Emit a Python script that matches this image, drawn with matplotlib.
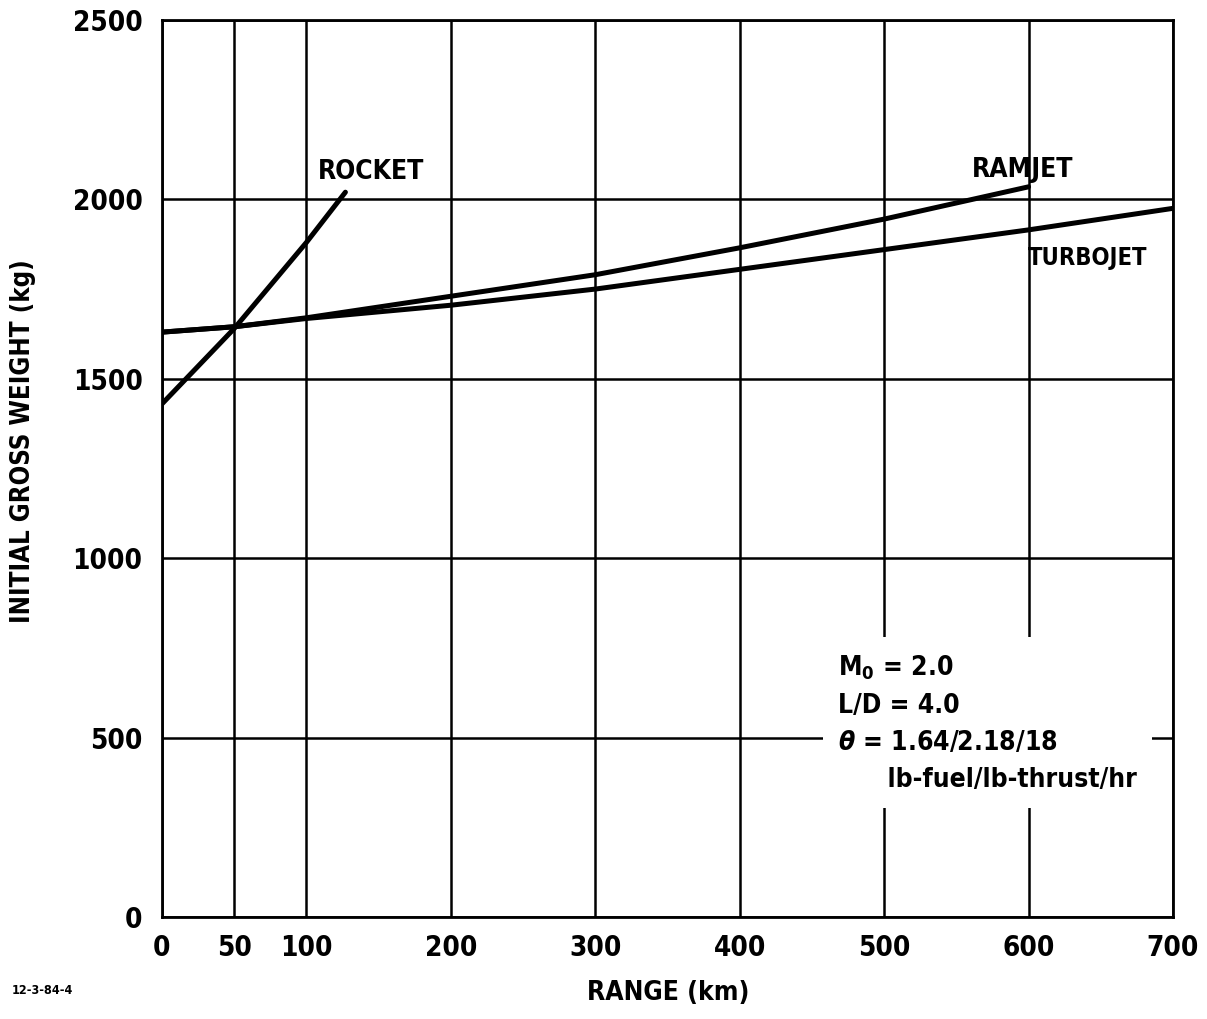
import matplotlib as mpl
import matplotlib.pyplot as plt

# data
rocket_x = [0, 25, 50, 75, 100, 127]
rocket_y = [1430, 1535, 1640, 1760, 1880, 2020]

ramjet_x = [0, 50, 100, 150, 200, 300, 400, 500, 600]
ramjet_y = [1630, 1645, 1670, 1700, 1730, 1790, 1865, 1945, 2035]

turbojet_x = [0, 50, 100, 200, 300, 400, 500, 600, 700]
turbojet_y = [1630, 1645, 1668, 1705, 1750, 1805, 1860, 1915, 1975]

x_ticks = [0, 50, 100, 200, 300, 400, 500, 600, 700]
y_ticks = [0, 500, 1000, 1500, 2000, 2500]

# condensed bold look of the original lettering
mpl.rcParams["font.family"] = ["DejaVu Sans"]
mpl.rcParams["font.stretch"] = "condensed"
mpl.rcParams["font.weight"] = "bold"
mpl.rcParams["axes.labelweight"] = "bold"
mpl.rcParams["mathtext.default"] = "regular"

fig = plt.figure(figsize=(12.07, 10.19), dpi=100)
ax = fig.add_axes([0.1342, 0.1001, 0.8376, 0.8803])

# grid
for xv in x_ticks:
    ax.axvline(xv, color="black", lw=1.8, zorder=1)
for yv in y_ticks:
    ax.axhline(yv, color="black", lw=1.8, zorder=1)

# curves
ax.plot(rocket_x, rocket_y, color="black", lw=3.6, solid_capstyle="round", zorder=3)
ax.plot(ramjet_x, ramjet_y, color="black", lw=3.6, solid_capstyle="round", zorder=3)
ax.plot(turbojet_x, turbojet_y, color="black", lw=3.6, solid_capstyle="round", zorder=3)

ax.set_xlim(0, 700)
ax.set_ylim(0, 2500)
ax.set_xticks(x_ticks)
ax.set_yticks(y_ticks)
ax.tick_params(length=0, labelsize=20)
ax.tick_params(axis="x", pad=12)
ax.tick_params(axis="y", pad=14)
for s in ax.spines.values():
    s.set_linewidth(2.0)

# curve labels
ax.text(145, 2075, "ROCKET", fontsize=19, ha="center", va="center")
ax.text(596, 2082, "RAMJET", fontsize=19, ha="center", va="center")
ax.text(641, 1837, "TURBOJET", fontsize=17, ha="center", va="center")

# conditions box
ax.text(468, 541,
        "M$_0$ = 2.0\nL/D = 4.0\n$\\mathit{\\theta}$ = 1.64/2.18/18\n      lb-fuel/lb-thrust/hr",
        fontsize=19, ha="left", va="center", linespacing=1.55,
        bbox=dict(facecolor="white", edgecolor="none", pad=11), zorder=2)

ax.set_xlabel("RANGE (km)", fontsize=19)
ax.xaxis.set_label_coords(0.5005, -0.07)
ax.set_ylabel("INITIAL GROSS WEIGHT (kg)", fontsize=18.5)
ax.yaxis.set_label_coords(-0.1245, 0.53)

fig.text(0.01, 0.028, "12-3-84-4", fontsize=9, ha="left", va="center")

fig.savefig("out.png", dpi=100)
